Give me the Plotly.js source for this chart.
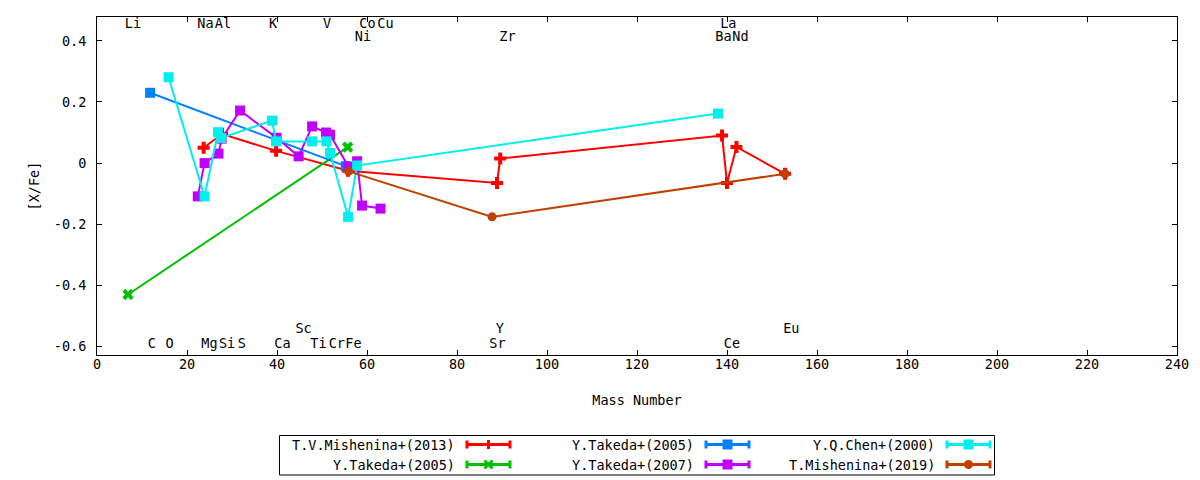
<!DOCTYPE html>
<html>
<head>
<meta charset="utf-8">
<script src="https://cdn.plot.ly/plotly-3.0.1.min.js"></script>
<style>
  body { margin: 0; background: #fff; }
  #chart { width: 1200px; height: 480px; }
</style>
</head>
<body>
<div id="chart"></div>
<script>
// series values (mass number, [X/Fe])
const mish13_x = [23.7, 27.8, 39.8, 55.8, 88.9, 89.6, 138.9, 140.0, 142.1, 152.9];
const mish13_y = [0.05, 0.095, 0.04, -0.025, -0.065, 0.015, 0.09, -0.065, 0.053, -0.035];

const takeda05a_x = [6.9, 55.7];
const takeda05a_y = [-0.43, 0.052];

const takeda05b_x = [11.8, 55.3];
const takeda05b_y = [0.23, -0.01];

const takeda07_x = [22.4, 23.9, 27.0, 27.7, 31.8, 39.9, 44.8, 47.8, 50.9, 51.8, 55.9, 57.8, 58.9, 63.0];
const takeda07_y = [-0.109, 0.0, 0.031, 0.08, 0.172, 0.083, 0.022, 0.12, 0.10, 0.093, -0.012, 0.006, -0.139, -0.149];

const chen00_x = [15.9, 23.9, 26.9, 27.6, 38.9, 39.8, 47.8, 51.0, 51.8, 55.8, 57.8, 138.0];
const chen00_y = [0.281, -0.109, 0.101, 0.082, 0.139, 0.071, 0.071, 0.071, 0.033, -0.176, -0.008, 0.162];

const mish19_x = [55.9, 87.8, 152.9];
const mish19_y = [-0.027, -0.176, -0.035];

// element labels written inside the frame
const elem_names = ["Li", "Na", "Al", "K", "V", "Co", "Cu", "La",
                    "Ni", "Zr", "Ba", "Nd",
                    "Sc", "Y", "Eu",
                    "C", "O", "Mg", "Si", "S", "Ca", "Ti", "Cr", "Fe", "Sr", "Ce"];
const elem_x = [8.0, 24.1, 28.0, 39.1, 51.1, 60.1, 64.1, 140.3,
                59.1, 91.2, 139.2, 143.0,
                45.9, 89.5, 154.3,
                12.2, 16.1, 25.0, 28.9, 32.2, 41.2, 49.2, 53.3, 57.0, 89.0, 141.1];
const elem_y = [0.452, 0.452, 0.452, 0.452, 0.452, 0.452, 0.452, 0.452,
                0.411, 0.411, 0.411, 0.411,
                -0.545, -0.545, -0.545,
                -0.594, -0.594, -0.594, -0.594, -0.594, -0.594, -0.594, -0.594, -0.594, -0.594, -0.594];

const x_ticks = [0, 20, 40, 60, 80, 100, 120, 140, 160, 180, 200, 220, 240];
const y_ticks = [-0.6, -0.4, -0.2, 0, 0.2, 0.4];
const y_tick_text = ["-0.6", "-0.4", "-0.2", "0", "0.2", "0.4"];

const FONT = "DejaVu Sans Mono";
const FSIZE = 13.5;

// plotting order = gnuplot order (later ones on top)
const series = [
    {name: "T.V.Mishenina+(2013)", x: mish13_x, y: mish13_y, color: "#ff0000", symbol: "cross", size: 10},
    {name: "Y.Takeda+(2005)", x: takeda05a_x, y: takeda05a_y, color: "#00c000", symbol: "x", size: 10},
    {name: "Y.Takeda+(2005)", x: takeda05b_x, y: takeda05b_y, color: "#0080ff", symbol: "square", size: 10},
    {name: "Y.Takeda+(2007)", x: takeda07_x, y: takeda07_y, color: "#c000ff", symbol: "square", size: 10},
    {name: "Y.Q.Chen+(2000)", x: chen00_x, y: chen00_y, color: "#00eeee", symbol: "square", size: 10},
    {name: "T.Mishenina+(2019)", x: mish19_x, y: mish19_y, color: "#c04000", symbol: "circle", size: 9}
];

var traces = []
for (s of series) {
    traces.push({
        type: "scatter",
        mode: "lines+markers",
        x: s.x,
        y: s.y,
        name: s.name,
        line: {color: s.color, width: 2},
        marker: {color: s.color, symbol: s.symbol, size: s.size, line: {width: 0}},
        showlegend: false,
        hoverinfo: "skip"
    })
}

traces.push({
    type: "scatter",
    mode: "text",
    x: elem_x,
    y: elem_y,
    text: elem_names,
    textposition: "middle center",
    textfont: {family: FONT, size: FSIZE, color: "#000"},
    cliponaxis: false,
    showlegend: false,
    hoverinfo: "skip"
})

// plot frame in page pixels, used to place the hand-made legend
const L = 97, R = 1177, T = 17, B = 355;
function px_x(px) { return (px - L) / (R - L); }
function px_y(py) { return (B - py) / (B - T); }

var shapes = []
var annotations = []

// legend box
shapes.push({type: "rect", xref: "paper", yref: "paper",
    x0: px_x(279.5), x1: px_x(994.5), y0: px_y(475), y1: px_y(435.5),
    line: {color: "#000", width: 1}, fillcolor: "rgba(0,0,0,0)"})

const col_right = [457, 696, 937];
const row_y = [444.5, 464.5];

series.forEach(function (s, i) {
    const col = Math.floor(i / 2), row = i % 2;
    const tx = col_right[col], ty = row_y[row];
    annotations.push({xref: "paper", yref: "paper", x: px_x(tx), y: px_y(ty),
        xanchor: "right", yanchor: "middle", showarrow: false, text: s.name,
        font: {family: FONT, size: FSIZE, color: "#000"}})
    const a = px_x(tx + 10), b = px_x(tx + 53), m = px_x(tx + 31.5), yy = px_y(ty);
    shapes.push({type: "line", xref: "paper", yref: "paper", x0: a, x1: b, y0: yy, y1: yy,
        line: {color: s.color, width: 3}})
    for (cx of [a, b]) {
        shapes.push({type: "line", xref: "paper", yref: "paper", xsizemode: "pixel", ysizemode: "pixel",
            xanchor: cx, yanchor: yy, x0: 0, x1: 0, y0: -4, y1: 4,
            line: {color: s.color, width: 3}})
    }
    // sample marker
    const base = {xref: "paper", yref: "paper", xsizemode: "pixel", ysizemode: "pixel",
        xanchor: m, yanchor: yy}
    if (s.symbol === "square") {
        shapes.push(Object.assign({type: "rect", x0: -5, x1: 5, y0: -5, y1: 5,
            fillcolor: s.color, line: {width: 0}}, base))
    } else if (s.symbol === "circle") {
        shapes.push(Object.assign({type: "circle", x0: -4.5, x1: 4.5, y0: -4.5, y1: 4.5,
            fillcolor: s.color, line: {width: 0}}, base))
    } else if (s.symbol === "cross") {
        shapes.push(Object.assign({type: "rect", x0: -1.5, x1: 1.5, y0: -4.5, y1: 4.5,
            fillcolor: s.color, line: {width: 0}}, base))
    } else {
        shapes.push(Object.assign({type: "line", x0: -4, x1: 4, y0: -4, y1: 4,
            line: {color: s.color, width: 3}}, base))
        shapes.push(Object.assign({type: "line", x0: -4, x1: 4, y0: 4, y1: -4,
            line: {color: s.color, width: 3}}, base))
    }
})

var layout = {
    width: 1200,
    height: 480,
    margin: {l: L, r: 1200 - R, t: T, b: 480 - B},
    paper_bgcolor: "#fff",
    plot_bgcolor: "#fff",
    font: {family: FONT, size: FSIZE, color: "#000"},
    showlegend: false,
    xaxis: {
        range: [0, 240],
        tickvals: x_ticks,
        ticks: "inside",
        ticklen: 5,
        tickcolor: "#000",
        showline: true,
        linecolor: "#000",
        linewidth: 1,
        mirror: "ticks",
        showgrid: false,
        zeroline: false,
        ticklabelstandoff: -3,
        title: {text: "Mass Number", standoff: 24, font: {family: FONT, size: FSIZE}}
    },
    yaxis: {
        range: [-0.628, 0.478],
        tickvals: y_ticks,
        ticktext: y_tick_text,
        ticks: "inside",
        ticklen: 5,
        tickcolor: "#000",
        showline: true,
        linecolor: "#000",
        linewidth: 1,
        mirror: "ticks",
        showgrid: false,
        zeroline: false,
        ticklabelstandoff: 7,
        title: {text: "[X/Fe]", standoff: 11, font: {family: FONT, size: FSIZE}}
    },
    shapes: shapes,
    annotations: annotations
};

Plotly.newPlot("chart", traces, layout, {staticPlot: true, responsive: false});
</script>
</body>
</html>
